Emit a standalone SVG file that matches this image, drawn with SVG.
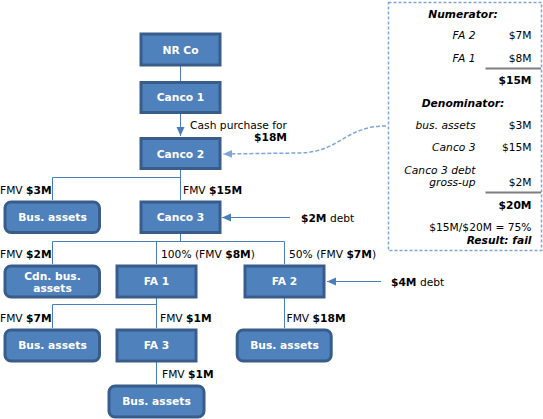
<svg xmlns="http://www.w3.org/2000/svg" width="543" height="419" viewBox="0 0 543 419">
<style>
.box{fill:#4f81bd;stroke:#385d8a;stroke-width:3}
.lbl{font-family:"DejaVu Sans",Verdana,sans-serif;font-size:10.7px;font-weight:bold;fill:#ffffff;text-anchor:middle}
.t{font-family:"DejaVu Sans",Verdana,sans-serif;font-size:10.7px;fill:#000000}
.b{font-weight:bold}
.i{font-style:italic}
.r{text-anchor:end}
.m{text-anchor:middle}
.ln{fill:none;stroke:#4a7ebb;stroke-width:1}
.sep{stroke:#7f7f7f;stroke-width:2}
</style>
<defs>
<marker id="ah" markerWidth="10" markerHeight="10" refX="9" refY="5" orient="auto" markerUnits="userSpaceOnUse">
<path d="M0,1 L9,5 L0,9 Z" fill="#4a7ebb"/>
</marker>
<marker id="ahl" markerWidth="10" markerHeight="10" refX="9" refY="5" orient="auto" markerUnits="userSpaceOnUse">
<path d="M0,1 L9,5 L0,9 Z" fill="#7fa6d6"/>
</marker>
</defs>

<g id="connectors">
<path class="ln" d="M180.5,66 V81"/>
<path class="ln" d="M180.5,114 V136" marker-end="url(#ah)"/>
<path class="ln" d="M180.5,170 V200 M180.5,177.5 H52.5 V200"/>
<path class="ln" d="M180.5,234 V241.5 M52.5,241.5 H284.5 M52.5,241.5 V264 M156.5,241.5 V264 M284.5,241.5 V264"/>
<path class="ln" d="M156.5,298 V328 M156.5,304.5 H52.5 V328"/>
<path class="ln" d="M156.5,362 V384"/>
<path class="ln" d="M284.5,298 V328"/>
<path class="ln" d="M290,217.5 H222" marker-end="url(#ah)"/>
<path class="ln" d="M381,281.5 H327" marker-end="url(#ah)"/>
<path d="M386,126 C345,126 340,152 300,153 L223,154" fill="none" stroke="#7fa6d6" stroke-width="1.5" stroke-dasharray="4,2" marker-end="url(#ahl)"/>
</g>

<g id="nrco"><rect class="box" x="141" y="34" width="79" height="31"/><text class="lbl" x="180.5" y="54">NR Co</text></g>
<g id="canco1"><rect class="box" x="141" y="82.5" width="79" height="30"/><text class="lbl" x="180.5" y="101">Canco 1</text></g>
<g id="canco2"><rect class="box" x="141" y="138.5" width="79" height="30"/><text class="lbl" x="180.5" y="158">Canco 2</text></g>
<g id="bus1"><rect class="box" x="5" y="202" width="94.5" height="30.5" rx="6"/><text class="lbl" x="52.5" y="221">Bus. assets</text></g>
<g id="canco3"><rect class="box" x="141" y="202" width="79" height="30.5"/><text class="lbl" x="180.5" y="221">Canco 3</text></g>
<g id="cdnbus"><rect class="box" x="5" y="266" width="94.5" height="31" rx="6"/><text class="lbl" x="52.5" y="280">Cdn. bus.</text><text class="lbl" x="52.5" y="291.5">assets</text></g>
<g id="fa1"><rect class="box" x="117" y="266" width="79" height="31"/><text class="lbl" x="156.5" y="285">FA 1</text></g>
<g id="fa2"><rect class="box" x="245" y="266" width="79" height="31"/><text class="lbl" x="284.5" y="285">FA 2</text></g>
<g id="bus2"><rect class="box" x="5" y="330" width="94.5" height="31" rx="6"/><text class="lbl" x="52.5" y="349">Bus. assets</text></g>
<g id="fa3"><rect class="box" x="117" y="330" width="79" height="31"/><text class="lbl" x="156.5" y="349">FA 3</text></g>
<g id="bus3"><rect class="box" x="237.2" y="330" width="94" height="31" rx="6"/><text class="lbl" x="284.5" y="349">Bus. assets</text></g>
<g id="bus4"><rect class="box" x="109" y="386" width="95" height="31" rx="6"/><text class="lbl" x="156.5" y="405">Bus. assets</text></g>

<g id="labels">
<text class="t r" x="287" y="129">Cash purchase for</text>
<text class="t r b" x="287" y="141">$18M</text>
<text class="t" x="0" y="194">FMV <tspan class="b">$3M</tspan></text>
<text class="t" x="183" y="194">FMV <tspan class="b">$15M</tspan></text>
<text class="t" x="301" y="222"><tspan class="b">$2M</tspan> debt</text>
<text class="t" x="0" y="258">FMV <tspan class="b">$2M</tspan></text>
<text class="t" x="161" y="258">100% (FMV <tspan class="b">$8M</tspan>)</text>
<text class="t" x="289" y="258">50% (FMV <tspan class="b">$7M</tspan>)</text>
<text class="t" x="391" y="286"><tspan class="b">$4M</tspan> debt</text>
<text class="t" x="0" y="322">FMV <tspan class="b">$7M</tspan></text>
<text class="t" x="160" y="322">FMV <tspan class="b">$1M</tspan></text>
<text class="t" x="286.5" y="322">FMV <tspan class="b">$18M</tspan></text>
<text class="t" x="162" y="378">FMV <tspan class="b">$1M</tspan></text>
</g>

<g id="calc">
<rect x="388.5" y="2.5" width="153" height="248" fill="#ffffff" stroke="#7fa6d6" stroke-width="1.5" stroke-dasharray="3,2"/>
<text class="t b i m" x="463" y="18">Numerator:</text>
<text class="t i r" x="475.5" y="39">FA 2</text><text class="t r" x="531.5" y="39">$7M</text>
<text class="t i r" x="475.5" y="62">FA 1</text><text class="t r" x="531.5" y="62">$8M</text>
<line class="sep" x1="485.5" y1="68.5" x2="541" y2="68.5"/>
<text class="t b r" x="531.5" y="84">$15M</text>
<text class="t b i m" x="463" y="107">Denominator:</text>
<text class="t i r" x="475.5" y="129">bus. assets</text><text class="t r" x="531.5" y="129">$3M</text>
<text class="t i r" x="475.5" y="151">Canco 3</text><text class="t r" x="531.5" y="151">$15M</text>
<text class="t i r" x="475.5" y="174">Canco 3 debt</text>
<text class="t i r" x="475.5" y="186">gross-up</text><text class="t r" x="531.5" y="186">$2M</text>
<line class="sep" x1="485.5" y1="192.5" x2="541" y2="192.5"/>
<text class="t b r" x="531.5" y="209">$20M</text>
<text class="t r" x="531.5" y="230.5">$15M/$20M = 75%</text>
<text class="t b i r" x="531.5" y="243.5">Result: fail</text>
</g>
</svg>
